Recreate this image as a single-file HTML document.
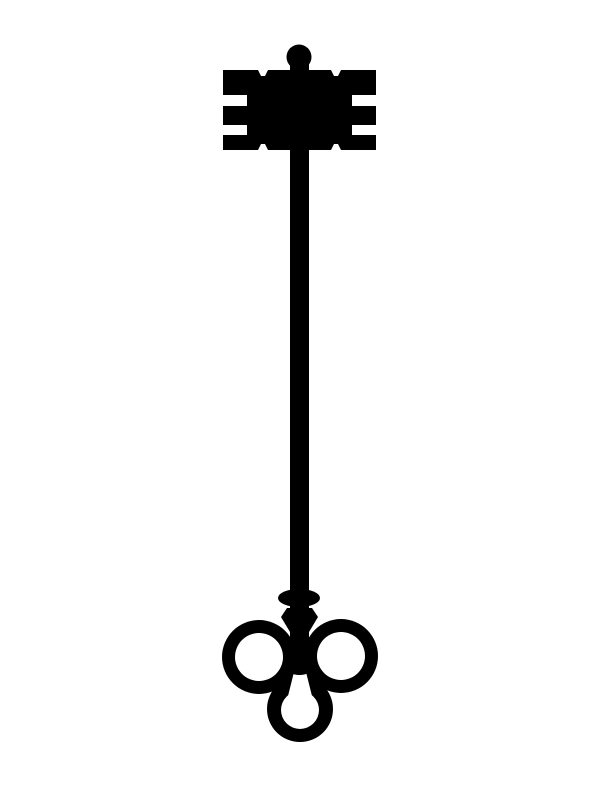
<!DOCTYPE html>
<html><head><style>html,body{margin:0;padding:0;background:#fff}svg{display:block}</style></head>
<body>
<svg width="600" height="800" viewBox="0 0 600 800" xmlns="http://www.w3.org/2000/svg">
<rect width="600" height="800" fill="#fff"/>
<g fill="#000">
<rect x="290" y="62" width="19" height="535"/>
<circle cx="299" cy="57" r="12.5"/>
<path d="M223 70 H258 L261 76 H265 L268 70 H290 V150 H268 L265 144 H261 L258 150 H223 V135 H247 V125 H223 V106 H247 V95 H223 Z"/>
<path d="M376 70 H341 L338 76 H334 L331 70 H309 V150 H331 L334 144 H338 L341 150 H376 V135 H352 V125 H376 V106 H352 V95 H376 Z"/>
<circle cx="259" cy="657" r="37"/>
<circle cx="341" cy="656" r="37"/>
<circle cx="300" cy="709" r="33"/>
<polygon points="262,660 338,660 300,700"/>
</g>
<g fill="#fff">
<circle cx="259" cy="657" r="24"/>
<circle cx="341" cy="656" r="24"/>
<circle cx="300" cy="710" r="19"/>
<polygon points="288,696 312,696 306,672 294,672"/>
</g>
<g fill="#000">
<rect x="290" y="590" width="19" height="70"/>
<ellipse cx="299" cy="598" rx="21" ry="9"/>
<path d="M287 608 H312 L318 617 L309 632 V655 H290 V632 L281 617 Z"/>
<ellipse cx="299.5" cy="666" rx="14" ry="9"/>
</g>
</svg>
</body></html>
